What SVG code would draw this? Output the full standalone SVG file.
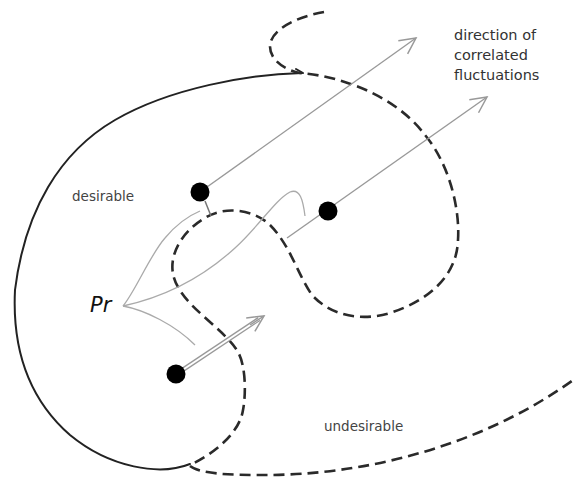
<svg xmlns="http://www.w3.org/2000/svg" width="576" height="477" viewBox="0 0 576 477">
  <style>
    .solid { fill: none; stroke: #222; stroke-width: 2; stroke-linecap: round; }
    .dash { fill: none; stroke: #2a2a2a; stroke-width: 2.6; stroke-dasharray: 11 6; }
    .lead { fill: none; stroke: #aaa; stroke-width: 1.3; }
    .ray { fill: none; stroke: #999; stroke-width: 1.4; }
    .dot { fill: #000; }
    .lbl { font-family: "DejaVu Sans", Verdana, sans-serif; font-size: 13.5px; fill: #444; }
    .note { font-family: "DejaVu Sans", Verdana, sans-serif; font-size: 14.5px; fill: #333; }
    .pr { font-family: "DejaVu Sans", Verdana, sans-serif; font-style: italic; font-size: 21px; fill: #111; }
  </style>
  <defs>
    <marker id="chev" markerUnits="userSpaceOnUse" viewBox="-20 -12 24 24" refX="0" refY="0" markerWidth="24" markerHeight="24" orient="auto">
      <path d="M-16,-8 L0,0 L-16,8" fill="none" stroke="#999" stroke-width="1.5"/>
    </marker>
  </defs>

  <rect width="576" height="477" fill="#fff"/>

  <!-- region boundaries -->
  <g id="boundaries">
    <path class="solid" d="M302,73 C250,74 170,88 115,120 C60,152 25,210 15,290 C12,350 30,400 70,435 C110,468 160,476 190,464"/>
    <path class="solid" d="M296,69 L303,73" stroke-width="1.4"/>
    <path class="dash" d="M324,12 C300,16 272,28 270,45 C269,60 285,70 300,73 C340,76 395,95 425,135 C450,165 460,210 458,240 C457,275 430,300 390,313 C360,322 330,315 312,295 C298,275 290,245 270,225 C255,210 225,205 205,218 C180,232 163,262 178,287 C190,310 225,330 238,352 C246,366 246,395 243,410 C240,430 220,450 192,464"/>
    <path class="dash" d="M190,466 C200,474 230,475 260,475 C360,476 480,448 576,378"/>
  </g>

  <!-- leader lines from the Pr label -->
  <g id="pr-leaders">
    <path class="lead" d="M123,306 C135,292 150,255 165,238 C175,226 188,216 200,211"/>
    <path class="lead" d="M123,306 C160,298 200,280 235,248 C260,225 275,200 290,192 C300,188 303,200 305,216"/>
    <path class="lead" d="M123,306 C145,310 175,325 195,345"/>
  </g>

  <!-- fluctuation directions -->
  <g id="connectors">
    <line class="ray" x1="200" y1="192" x2="416" y2="38" marker-end="url(#chev)"/>
    <line class="ray" x1="287" y1="238" x2="487" y2="97" marker-end="url(#chev)"/>
    <line x1="205" y1="201" x2="211" y2="216" stroke="#777" stroke-width="1.5"/>
    <line x1="178" y1="373" x2="259" y2="319" stroke="#999" stroke-width="4.6"/>
    <line x1="178" y1="373" x2="260" y2="318.5" stroke="#fff" stroke-width="2"/>
    <line class="ray" x1="250" y1="325" x2="264" y2="316" marker-end="url(#chev)"/>
  </g>

  <g id="point-a"><circle class="dot" cx="200" cy="192" r="9.5"/></g>
  <g id="point-b"><circle class="dot" cx="328" cy="211" r="9.5"/></g>
  <g id="point-c"><circle class="dot" cx="176" cy="374" r="9.5"/></g>

  <g id="label-desirable"><text class="lbl" x="72" y="201">desirable</text></g>
  <g id="label-undesirable"><text class="lbl" x="324" y="431">undesirable</text></g>
  <g id="label-pr"><text class="pr" x="90" y="312">Pr</text></g>
  <g id="label-direction">
    <text class="note" x="454" y="40">direction of</text>
    <text class="note" x="454" y="60">correlated</text>
    <text class="note" x="454" y="80">fluctuations</text>
  </g>
</svg>
